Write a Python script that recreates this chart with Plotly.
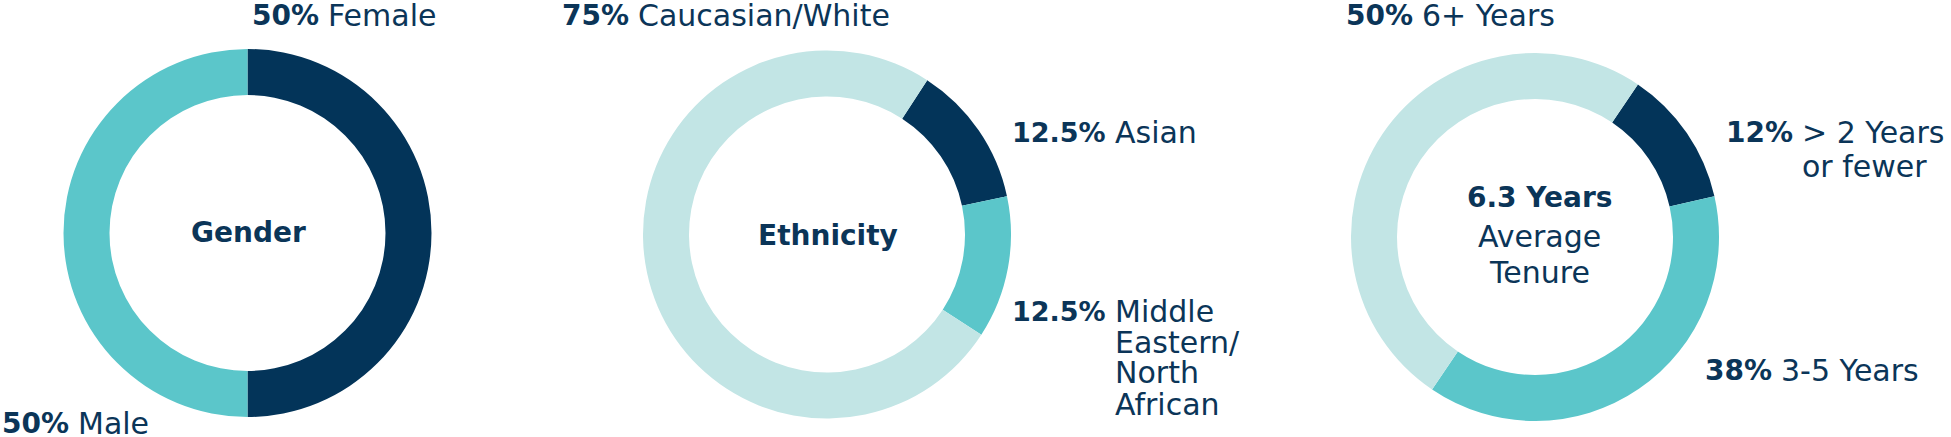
import plotly.graph_objects as go

W, H = 1951, 437

# ---- data ----
gender_labels = ["Female", "Male"]
gender_values = [50, 50]

ethnicity_labels = ["Asian", "Middle Eastern/North African", "Caucasian/White"]
ethnicity_values = [12.5, 12.5, 75]

tenure_labels = ["> 2 Years or fewer", "3-5 Years", "6+ Years"]
tenure_values = [12, 38, 50]

center_titles = ["Gender", "Ethnicity"]
tenure_center = ["6.3 Years", "Average", "Tenure"]
me_lines = ["Middle", "Eastern/", "North", "African"]
short_lines = ["> 2 Years", "or fewer"]

# ---- style ----
NAVY = "#033459"
TEAL = "#5BC6CA"
LIGHT = "#C2E5E5"
TEXT = "#0B3558"
FONT = "DejaVu Sans"
R = 184


def domain(cx, cy, r=R):
    return dict(x=[(cx - r) / W, (cx + r) / W], y=[1 - (cy + r) / H, 1 - (cy - r) / H])


fig = go.Figure()
fig.add_trace(go.Pie(labels=gender_labels, values=gender_values, hole=0.75, sort=False,
                     direction="clockwise", rotation=0, textinfo="none",
                     marker=dict(colors=[NAVY, TEAL], line=dict(width=0)),
                     domain=domain(247.5, 233), showlegend=False))
fig.add_trace(go.Pie(labels=ethnicity_labels, values=ethnicity_values, hole=0.75, sort=False,
                     direction="clockwise", rotation=33, textinfo="none",
                     marker=dict(colors=[NAVY, TEAL, LIGHT], line=dict(width=0)),
                     domain=domain(827, 234.5), showlegend=False))
fig.add_trace(go.Pie(labels=tenure_labels, values=tenure_values, hole=0.75, sort=False,
                     direction="clockwise", rotation=34, textinfo="none",
                     marker=dict(colors=[NAVY, TEAL, LIGHT], line=dict(width=0)),
                     domain=domain(1535, 237), showlegend=False))


def ann(text, x, y, xanchor="left", size=30):
    fig.add_annotation(text=text, x=x / W, y=1 - y / H, xref="paper", yref="paper",
                       xanchor=xanchor, yanchor="middle", showarrow=False,
                       borderpad=0, borderwidth=0, align="center" if xanchor == "center" else xanchor,
                       font=dict(family=FONT, size=size, color=TEXT))


def pct(v, label_x, y, size=28):
    ann(f"<b>{v:g}%</b>", label_x - 11, y, "right", size)


def label(text, x, y):
    ann(text, x - 2, y)


# Gender
pct(gender_values[0], 330, 16)
label(gender_labels[0], 330, 16)
pct(gender_values[1], 80, 423)
label(gender_labels[1], 80, 423)
ann(f"<b>{center_titles[0]}</b>", 248, 232.5, "center", 28)

# Ethnicity
pct(ethnicity_values[2], 640, 16)
label(ethnicity_labels[2], 640, 16)
pct(ethnicity_values[0], 1117, 132.5, 27)
label(ethnicity_labels[0], 1117, 132.5)
pct(ethnicity_values[1], 1117, 311, 27)
for ln, yy in zip(me_lines, [311, 342, 372, 404]):
    label(ln, 1117, yy)
ann(f"<b>{center_titles[1]}</b>", 827.5, 235, "center", 28)

# Tenure
pct(tenure_values[2], 1424, 16)
label(tenure_labels[2], 1424, 16)
pct(tenure_values[0], 1804, 132)
for ln, yy in zip(short_lines, [132, 166]):
    label(ln, 1804, yy)
pct(tenure_values[1], 1783, 370.5)
label(tenure_labels[1], 1783, 370.5)
ann(f"<b>{tenure_center[0]}</b>", 1539, 197, "center", 28)
ann(tenure_center[1], 1539, 236.5, "center", 30)
ann(tenure_center[2], 1539, 272.5, "center", 30)

fig.update_layout(width=W, height=H, margin=dict(l=0, r=0, t=0, b=0),
                  paper_bgcolor="white", plot_bgcolor="white",
                  font=dict(family=FONT, color=TEXT))

fig.write_html("out.html", config={"displayModeBar": False},
               post_script="document.body.style.margin='0';document.body.style.overflow='hidden';")
